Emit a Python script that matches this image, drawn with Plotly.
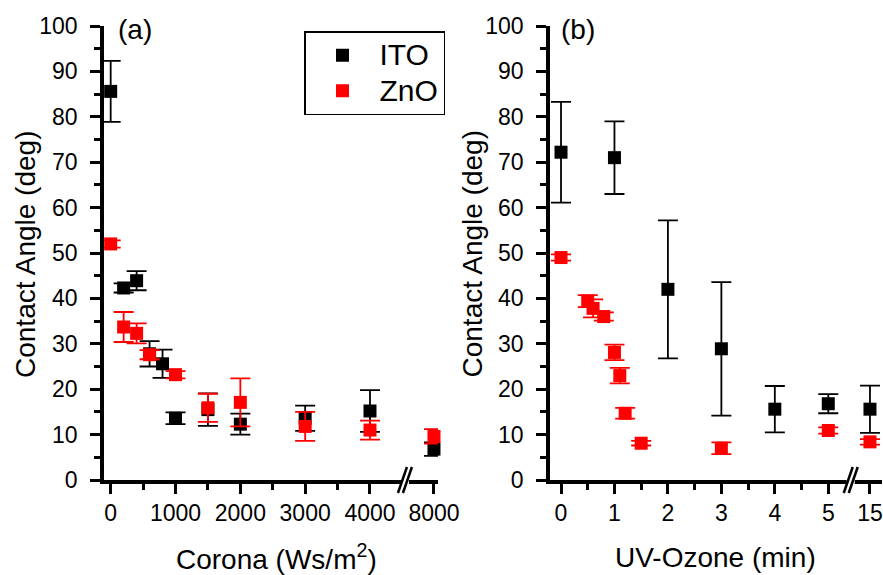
import plotly.graph_objects as go

# ---------------- data ----------------
# Panel (a): Corona dose (Ws/m^2)
corona_ito_x = [0, 200, 400, 600, 800, 1000, 1500, 2000, 3000, 4000, 8000]
corona_ito_y = [85.6, 42.3, 43.9, 27.8, 25.6, 13.6, 15.5, 12.3, 13.6, 15.2, 6.8]
corona_ito_err = [6.7, 1.0, 2.1, 2.8, 3.1, 1.3, 3.6, 2.3, 2.8, 4.6, 1.5]
corona_zno_x = [0, 200, 400, 600, 1000, 1500, 2000, 3000, 4000, 8000]
corona_zno_y = [52.0, 33.7, 32.3, 27.6, 23.2, 15.9, 17.1, 11.8, 11.0, 9.6]
corona_zno_err = [0.8, 3.3, 2.2, 1.0, 0.8, 3.1, 5.3, 3.2, 2.1, 1.6]

# Panel (b): UV-Ozone time (min)
uv_ito_x = [0, 1, 2, 3, 4, 5, 15]
uv_ito_y = [72.2, 71.0, 42.0, 28.9, 15.6, 16.8, 15.6]
uv_ito_err = [11.1, 8.0, 15.2, 14.7, 5.1, 2.1, 5.2]
uv_zno_x = [0, 0.5, 0.6, 0.8, 1.0, 1.1, 1.2, 1.5, 3, 5, 15]
uv_zno_y = [49.0, 39.4, 37.8, 36.0, 28.1, 23.0, 14.7, 8.1, 7.0, 10.9, 8.4]
uv_zno_err = [0.7, 1.3, 2.0, 0.9, 1.7, 1.7, 1.2, 0.5, 1.3, 0.7, 0.6]

series_names = ["ITO", "ZnO"]

a_ticks = [0, 1000, 2000, 3000, 4000, 8000]
a_minor = [500, 1500, 2500, 3500]
b_ticks = [0, 1, 2, 3, 4, 5, 15]
b_minor = [0.5, 1.5, 2.5, 3.5, 4.5]
y_ticks = list(range(0, 101, 10))
y_minor = list(range(5, 100, 10))

# ---------------- broken-axis mapping ----------------
A_BREAK, A_RANGE = 4539, [-103, 5049]
B_BREAK, B_RANGE = 5.42, [-0.206, 6.005]


def brk_a(v):
    return v if v <= 4500 else v - 8000 + 4987


def brk_b(v):
    return v if v <= 5.5 else v - 15 + 5.78


FONT = "Liberation Sans, Arial, sans-serif"
BLACK, RED = "#000000", "#ff0000"

fig = go.Figure()


def add(xs, ys, errs, mapf, color, name, xa, ya, show):
    fig.add_trace(go.Scatter(
        x=[mapf(v) for v in xs], y=ys, mode="markers",
        name='<span style="font-size:30px">%s</span>' % name,
        legendgroup=name, showlegend=show, cliponaxis=False,
        marker=dict(symbol="square", size=13, color=color),
        error_y=dict(type="data", array=errs, visible=True, color=color,
                     thickness=1.8, width=10),
        xaxis=xa, yaxis=ya))


add(corona_ito_x, corona_ito_y, corona_ito_err, brk_a, BLACK, series_names[0], "x", "y", True)
add(corona_zno_x, corona_zno_y, corona_zno_err, brk_a, RED, series_names[1], "x", "y", True)
add(uv_ito_x, uv_ito_y, uv_ito_err, brk_b, BLACK, series_names[0], "x2", "y2", False)
add(uv_zno_x, uv_zno_y, uv_zno_err, brk_b, RED, series_names[1], "x2", "y2", False)

L, R, T, B = 104, 1, 26, 95
W, H = 883, 575
PW = W - L - R
PH = H - T - B
dom_a = [0, (438 - L) / PW]
dom_b = [(550 - L) / PW, 1]

common_axis = dict(showline=True, linecolor=BLACK, linewidth=3.5, mirror=False,
                   showgrid=False, zeroline=False, ticks="outside", automargin=False,
                   tickcolor=BLACK, tickwidth=3, ticklen=10,
                   tickfont=dict(family=FONT, size=23, color=BLACK))
minor_common = dict(ticks="outside", ticklen=6, tickwidth=3, tickcolor=BLACK)

fig.update_layout(
    template="none",
    width=W, height=H, margin=dict(l=L, r=R, t=T, b=B, autoexpand=False),
    paper_bgcolor="white", plot_bgcolor="white",
    font=dict(family=FONT, color=BLACK),
    xaxis=dict(domain=dom_a, range=A_RANGE, anchor="y",
               tickmode="array", tickvals=[brk_a(v) for v in a_ticks],
               ticktext=[str(v) for v in a_ticks],
               minor=dict(tickvals=a_minor, **minor_common), **common_axis),
    yaxis=dict(domain=[0, 1], range=[0, 100], anchor="x",
               tickmode="array", tickvals=y_ticks, ticklabelstandoff=8,
               minor=dict(tickvals=y_minor, **minor_common), **common_axis),
    xaxis2=dict(domain=dom_b, range=B_RANGE, anchor="y2",
                tickmode="array", tickvals=[brk_b(v) for v in b_ticks],
                ticktext=[str(v) for v in b_ticks],
                minor=dict(tickvals=b_minor, **minor_common), **common_axis),
    yaxis2=dict(domain=[0, 1], range=[0, 100], anchor="x2",
                tickmode="array", tickvals=y_ticks, ticklabelstandoff=8,
                minor=dict(tickvals=y_minor, **minor_common), **common_axis),
    legend=dict(x=(304 - L) / PW, y=(PH - (31 - T)) / PH, xanchor="left", yanchor="top",
                bgcolor="white", bordercolor=BLACK, borderwidth=1.5,
                font=dict(family=FONT, size=25, color=BLACK),
                itemwidth=64, tracegroupgap=0),
)


def px_x(px):
    return (px - L) / PW


def px_y(py):
    return (H - B - py) / PH


# axis titles and panel labels
ann = [
    dict(text="(a)", x=px_x(116), y=px_y(30), xanchor="left", yanchor="middle", size=28),
    dict(text="(b)", x=px_x(559), y=px_y(30), xanchor="left", yanchor="middle", size=28),
    dict(text="Corona (Ws/m<sup>2</sup>)", x=px_x(276), y=px_y(557), xanchor="center", yanchor="middle", size=28),
    dict(text="UV-Ozone (min)", x=px_x(715), y=px_y(557), xanchor="center", yanchor="middle", size=28),
]
for a in ann:
    fig.add_annotation(text=a["text"], x=a["x"], y=a["y"], xref="paper", yref="paper",
                       xanchor=a["xanchor"], yanchor=a["yanchor"], showarrow=False,
                       font=dict(family=FONT, size=a["size"], color=BLACK))
for xc in (25, 471.5):
    fig.add_annotation(text="Contact Angle (deg)", x=px_x(xc), y=px_y(254), xref="paper",
                       yref="paper", xanchor="center", yanchor="middle", textangle=-90,
                       showarrow=False, font=dict(family=FONT, size=28, color=BLACK))

# axis break marks
for xref, yref, brk, rng in (("x domain", "y domain", A_BREAK, A_RANGE),
                             ("x2 domain", "y2 domain", B_BREAK, B_RANGE)):
    frac = (brk - rng[0]) / (rng[1] - rng[0])
    fig.add_shape(type="rect", xref=xref, yref=yref, xsizemode="pixel", ysizemode="pixel",
                  xanchor=frac, yanchor=0, x0=-4, x1=4, y0=-4, y1=4,
                  fillcolor="white", line=dict(width=0), layer="above")
    for dx in (-2.5, 2.5):
        fig.add_shape(type="line", xref=xref, yref=yref, xsizemode="pixel", ysizemode="pixel",
                      xanchor=frac, yanchor=0, x0=dx - 4.5, x1=dx + 4.5, y0=-13, y1=13,
                      line=dict(color=BLACK, width=2.5), layer="above")

fig.write_html("out.html")
